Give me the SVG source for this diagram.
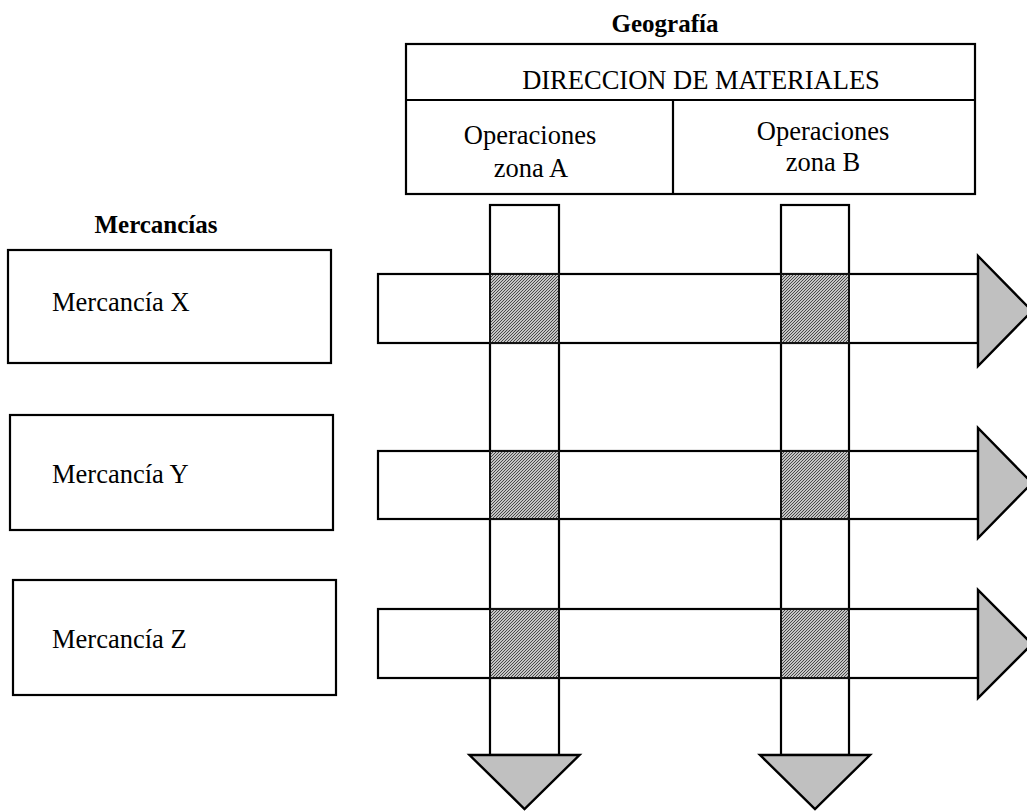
<svg xmlns="http://www.w3.org/2000/svg" width="1027" height="811" viewBox="0 0 1027 811">
  <defs>
    <pattern id="hatch" patternUnits="userSpaceOnUse" width="3" height="3">
      <rect width="3" height="3" fill="#c4c4c4"/>
      <path d="M-1,1 L1,-1 M0,3 L3,0 M2,4 L4,2" stroke="#333333" stroke-width="0.85"/>
    </pattern>
  </defs>
  <style>
    .box { fill: #ffffff; stroke: #000000; stroke-width: 2.2; }
    .bar { fill: #ffffff; stroke: #000000; stroke-width: 2.2; }
    .head { fill: #c0c0c0; stroke: #000000; stroke-width: 2.4; stroke-linejoin: miter; }
    .cell { fill: url(#hatch); stroke: #111111; stroke-width: 2; }
    .t { font-family: "Liberation Serif", "Times New Roman", serif; font-size: 26.5px; fill: #000000; }
    .b { font-family: "Liberation Serif", "Times New Roman", serif; font-size: 25px; font-weight: bold; fill: #000000; }
  </style>
  <rect width="1027" height="811" fill="#ffffff"/>

  <g id="titulo-geografia">
    <text class="b" x="665" y="32" text-anchor="middle">Geografía</text>
  </g>

  <g id="direccion-materiales">
    <rect class="box" x="406" y="44" width="569" height="150"/>
    <line x1="406" y1="100" x2="975" y2="100" stroke="#000" stroke-width="2.2"/>
    <text class="t" x="701" y="89" text-anchor="middle">DIRECCION DE MATERIALES</text>
  </g>

  <g id="operaciones-zona-a">
    <line x1="673" y1="100" x2="673" y2="194" stroke="#000" stroke-width="2.2"/>
    <text class="t" x="530" y="144" text-anchor="middle">Operaciones</text>
    <text class="t" x="531" y="177" text-anchor="middle">zona A</text>
  </g>

  <g id="operaciones-zona-b">
    <text class="t" x="823" y="140" text-anchor="middle">Operaciones</text>
    <text class="t" x="823" y="171" text-anchor="middle">zona B</text>
  </g>

  <g id="titulo-mercancias">
    <text class="b" x="156" y="233" text-anchor="middle">Mercancías</text>
  </g>

  <g id="mercancia-x">
    <rect class="box" x="8" y="250" width="323" height="113"/>
    <text class="t" x="52" y="311">Mercancía X</text>
  </g>

  <g id="mercancia-y">
    <rect class="box" x="10" y="415" width="323" height="115"/>
    <text class="t" x="52" y="483">Mercancía Y</text>
  </g>

  <g id="mercancia-z">
    <rect class="box" x="13" y="580" width="323" height="115"/>
    <text class="t" x="52" y="648">Mercancía Z</text>
  </g>

  <g id="connectors">
    <!-- vertical flows -->
    <rect class="bar" x="490" y="205" width="69" height="550"/>
    <polygon class="head" points="469.5,755 579.5,755 524.5,809"/>
    <rect class="bar" x="781" y="205" width="68" height="550"/>
    <polygon class="head" points="760,755 870,755 815,809"/>

    <!-- horizontal flows -->
    <rect class="bar" x="378" y="274" width="600" height="69"/>
    <polygon class="head" points="978,256 978,366 1032,311"/>
    <rect class="bar" x="378" y="451" width="600" height="68"/>
    <polygon class="head" points="978,428 978,538 1032,483"/>
    <rect class="bar" x="378" y="609" width="600" height="69"/>
    <polygon class="head" points="978,590 978,698 1032,644"/>

    <!-- intersections -->
    <rect class="cell" x="490" y="274" width="69" height="69"/>
    <rect class="cell" x="781" y="274" width="68" height="69"/>
    <rect class="cell" x="490" y="451" width="69" height="68"/>
    <rect class="cell" x="781" y="451" width="68" height="68"/>
    <rect class="cell" x="490" y="609" width="69" height="69"/>
    <rect class="cell" x="781" y="609" width="68" height="69"/>
  </g>
</svg>
